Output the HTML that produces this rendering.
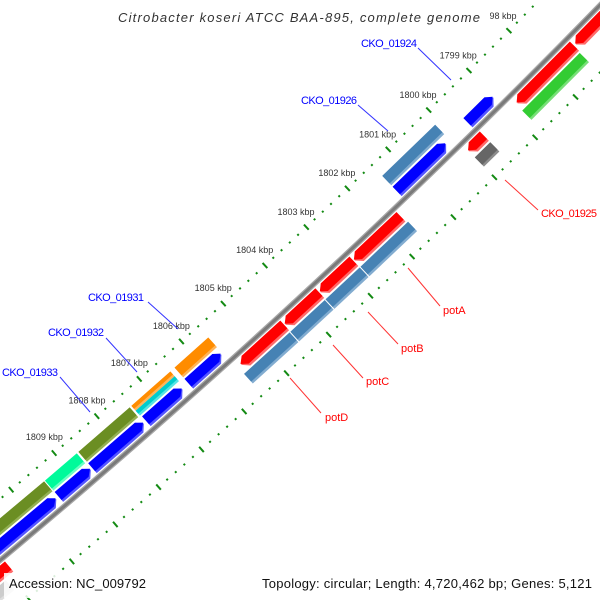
<!DOCTYPE html>
<html><head><meta charset="utf-8"><style>
html,body{margin:0;padding:0;background:#fff;width:600px;height:600px;overflow:hidden}
svg{display:block;overflow:hidden}
</style></head><body>
<svg id="chart" width="600" height="600" viewBox="0 0 600 600" xmlns="http://www.w3.org/2000/svg" font-family="Liberation Sans, sans-serif">
<rect width="600" height="600" fill="#fff"/>
<g id="rulers"></g>
<g id="backbone"></g>
<g id="features"></g>
<g id="ticklabels"></g>
<g font-size="11">
  <line x1="418" y1="48" x2="451" y2="80" stroke="#3333ff" stroke-width="1"/>
  <text x="361" y="47" fill="#0000ff" textLength="56">CKO_01924</text>
  <line x1="358" y1="105" x2="388" y2="131" stroke="#3333ff" stroke-width="1"/>
  <text x="301" y="104" fill="#0000ff" textLength="56">CKO_01926</text>
  <line x1="148" y1="302" x2="178" y2="329" stroke="#3333ff" stroke-width="1"/>
  <text x="88" y="301" fill="#0000ff" textLength="56">CKO_01931</text>
  <line x1="106" y1="338" x2="137" y2="372" stroke="#3333ff" stroke-width="1"/>
  <text x="48" y="336" fill="#0000ff" textLength="56">CKO_01932</text>
  <line x1="60" y1="377" x2="90" y2="412" stroke="#3333ff" stroke-width="1"/>
  <text x="2" y="376" fill="#0000ff" textLength="56">CKO_01933</text>
  <line x1="505" y1="180" x2="538" y2="210" stroke="#ff3333" stroke-width="1"/>
  <text x="541" y="217" fill="#ff0000" textLength="56">CKO_01925</text>
  <line x1="408" y1="268" x2="440" y2="306" stroke="#ff3333" stroke-width="1"/>
  <text x="443" y="314" fill="#ff0000">potA</text>
  <line x1="368" y1="312" x2="398" y2="344" stroke="#ff3333" stroke-width="1"/>
  <text x="401" y="352" fill="#ff0000">potB</text>
  <line x1="333" y1="345" x2="363" y2="378" stroke="#ff3333" stroke-width="1"/>
  <text x="366" y="385" fill="#ff0000">potC</text>
  <line x1="290" y1="378" x2="321" y2="413" stroke="#ff3333" stroke-width="1"/>
  <text x="325" y="421" fill="#ff0000">potD</text>
</g>
<rect x="112" y="3" width="378" height="25" fill="#fff"/>
<text x="118" y="22" font-size="13" font-style="italic" fill="#333" textLength="362">Citrobacter koseri ATCC BAA-895, complete genome</text>
<rect x="4" y="573" width="148" height="25" fill="#fff" fill-opacity="0.85"/>
<text x="9" y="588" font-size="13" fill="#111" textLength="137">Accession: NC_009792</text>
<rect x="257" y="573" width="341" height="25" fill="#fff" fill-opacity="0.85"/>
<text x="262" y="588" font-size="13" fill="#111" textLength="330">Topology: circular; Length: 4,720,462 bp; Genes: 5,121</text>
</svg>
<script>
const tickKbp = [1798,1799,1800,1801,1802,1803,1804,1805,1806,1807,1808,1809];
const tickLabels = ["1798 kbp","1799 kbp","1800 kbp","1801 kbp","1802 kbp","1803 kbp","1804 kbp","1805 kbp","1806 kbp","1807 kbp","1808 kbp","1809 kbp"];
const featNames = ["fwd-a","fwd-cko-01924","fwd-b","fwd-c","fwd-d","fwd-e","fwd-f",
  "cog-cko-01926","cog-cko-01931","cog-cko-01932-a","cog-cko-01932-b","cog-cko-01933","cog-g","cog-h",
  "rev-a","rev-b","rev-c","rev-pota","rev-potb","rev-potc","rev-potd","rev-z",
  "cog-green","cog-cko-01925","cog-pota","cog-potb","cog-potc","cog-potd","cog-z"];
const featStart = [1799.03,1800.2,1805.63,1806.55,1807.46,1808.7,1809.5,
  1800.1,1805.6,1806.5,1806.5,1807.46,1808.7,1809.46,
  1796.0,1797.38,1799.62,1801.66,1802.8,1803.62,1804.46,1810.9,
  1797.4,1799.62,1801.63,1802.8,1803.64,1804.48,1811.1];
const featEnd = [1799.66,1801.4,1806.4,1807.4,1808.66,1809.44,1811.6,
  1801.4,1806.4,1807.42,1807.42,1808.66,1809.44,1811.6,
  1797.34,1798.8,1800.0,1802.78,1803.6,1804.44,1805.49,1812.5,
  1798.83,1800.0,1802.78,1803.62,1804.46,1805.56,1813];
const featTrack = ["in1","in1","in1","in1","in1","in1","in1",
  "in2","in2","in2a","in2b","in2","in2","in2",
  "out1","out1","out1","out1","out1","out1","out1","out1",
  "out2","out2","out2","out2","out2","out2","out2"];
const featArrow = [1,1,1,1,1,1,1, 0,0,0,0,0,0,0, -1,-1,-1,-1,-1,-1,-1,-1, 0,0,0,0,0,0,0];
const featColor = ["blue","blue","blue","blue","blue","blue","blue",
  "steel","orange","orange","cyan","olive","mint","olive",
  "red","red","red","red","red","red","red","red",
  "green","gray","steel","steel","steel","steel","lgray"];

const palette = {blue:["#0000ff","#5555ff"],red:["#ff0000","#ff6a6a"],steel:["#4682b4","#82acd0"],
  green:["#33cc33","#77e077"],gray:["#666666","#8c8c8c"],orange:["#ff8c00","#ffb459"],
  cyan:["#00cccc","#55e5e5"],olive:["#6b8e23","#93b054"],mint:["#00fa9a","#6affc4"],lgray:["#cccccc","#dddddd"]};
const trackRange = {in1:[-17,-4],in2:[-32,-19],in2a:[-32,-25.5],in2b:[-25.5,-19],out1:[4,17],out2:[19,32]};
const CX=-5082, CY=-5533, R0=7934.5, A0=48.14, DEG_PER_KBP=0.41;
const NS="http://www.w3.org/2000/svg";
function pt(kbp,d){const t=(A0+(kbp-1806)*DEG_PER_KBP)*Math.PI/180;const r=R0+d;return [CX+r*Math.cos(t),CY+r*Math.sin(t)];}
function poly(pts){return pts.map(p=>p[0].toFixed(2)+","+p[1].toFixed(2)).join(" ");}

const bb=document.getElementById("backbone");
[[5.5,"#a8a8a8"],[3,"#7a7a7a"]].forEach(function(s){
  const pts=[];for(let k=1795;k<=1814;k+=0.5)pts.push(pt(k,0));
  const pl=document.createElementNS(NS,"polyline");
  pl.setAttribute("points",poly(pts));pl.setAttribute("fill","none");
  pl.setAttribute("stroke",s[1]);pl.setAttribute("stroke-width",s[0]);
  
  
  bb.appendChild(pl);
});

const rg=document.getElementById("rulers");
[-47,47].forEach(function(rd){
  for(let i=0;i<=90;i++){
    const k=1795+i*0.2; const major=(i%5===0);
    const h=major?3.5:1;
    const a=pt(k,rd-h), b=pt(k,rd+h);
    const ln=document.createElementNS(NS,"line");
    ln.setAttribute("x1",a[0]);ln.setAttribute("y1",a[1]);ln.setAttribute("x2",b[0]);ln.setAttribute("y2",b[1]);
    ln.setAttribute("stroke","#138a13");ln.setAttribute("stroke-width","2");
    
    
    rg.appendChild(ln);
  }
});

const tl=document.getElementById("ticklabels");
tickKbp.forEach(function(k,i){
  const p=pt(k,-68);
  const t=document.createElementNS(NS,"text");
  t.setAttribute("x",(p[0]+4).toFixed(1));t.setAttribute("y",(p[1]+3).toFixed(1));
  t.setAttribute("text-anchor","middle");t.setAttribute("font-size","9");t.setAttribute("fill","#333");
  t.textContent=tickLabels[i];
  
  
  tl.appendChild(t);
});

const fg=document.getElementById("features");
function shape(s,e,d1,d2,dir){
  const h=0.11, dm=(d1+d2)/2;
  if(dir===1){return [pt(s+h,d1),pt(e,d1),pt(e,d2),pt(s+h,d2),pt(s,dm)];}
  if(dir===-1){return [pt(s,d1),pt(e-h,d1),pt(e,dm),pt(e-h,d2),pt(s,d2)];}
  return [pt(s,d1),pt(e,d1),pt(e,d2),pt(s,d2)];
}
featNames.forEach(function(n,i){
  const r=trackRange[featTrack[i]], c=palette[featColor[i]];
  const s=featStart[i], e=featEnd[i], dir=featArrow[i];
  const g=document.createElementNS(NS,"g");
  
  
  const p1=document.createElementNS(NS,"polygon");
  p1.setAttribute("points",poly(shape(s,e,r[0],r[1],dir)));p1.setAttribute("fill",c[1]);
  
  
  g.appendChild(p1);
  const p2=document.createElementNS(NS,"polygon");
  p2.setAttribute("points",poly(shape(s,e,r[0],r[1]-2.5,dir)));p2.setAttribute("fill",c[0]);
  
  
  g.appendChild(p2);
  fg.appendChild(g);
});
</script>
</body></html>
